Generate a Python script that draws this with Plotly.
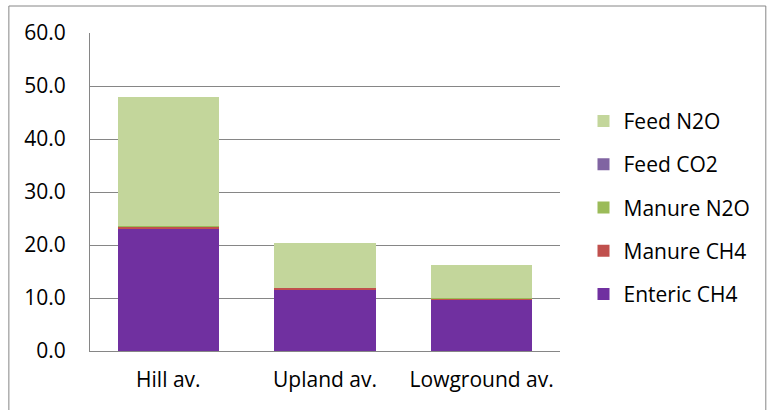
import plotly.graph_objects as go

categories = ["Hill av.", "Upland av.", "Lowground av."]
enteric_ch4 = [23.0, 11.6, 9.75]
manure_ch4 = [0.5, 0.3, 0.2]
manure_n2o = [0.1, 0.05, 0.05]
feed_co2 = [0.0, 0.0, 0.0]
feed_n2o = [24.4, 8.45, 6.2]
y_ticks = [0, 10, 20, 30, 40, 50, 60]

# stacking order bottom -> top, with legend rank (top entry first)
series = [
    ("Enteric CH4", enteric_ch4, "#7030A0", 5),
    ("Manure CH4", manure_ch4, "#C0504D", 4),
    ("Manure N2O", manure_n2o, "#9BBB59", 3),
    ("Feed CO2", feed_co2, "#8064A2", 2),
    ("Feed N2O", feed_n2o, "#C3D69B", 1),
]

FONT = "Open Sans"
SIZE = 21
fig = go.Figure()
for name, vals, color, rank in series:
    fig.add_trace(go.Bar(
        x=categories, y=vals, name=name,
        marker=dict(color=color, line=dict(width=0)),
        legendgroup=name, legendrank=rank,
    ))

fig.update_layout(
    width=768, height=410,
    margin=dict(l=90, r=203, t=33, b=59),
    barmode="stack", bargap=0.355,
    plot_bgcolor="white", paper_bgcolor="white",
    font=dict(family=FONT, size=SIZE, color="#000000"),
    showlegend=True,
    legend=dict(
        x=1.05, xanchor="left", y=0.787, yanchor="top",
        traceorder="grouped", tracegroupgap=13,
        font=dict(family=FONT, size=SIZE, color="#000000"),
    ),
    xaxis=dict(
        showgrid=False, showline=True, linecolor="#868686", linewidth=1,
        ticks="", tickfont=dict(size=SIZE), ticklabelstandoff=10,
    ),
    yaxis=dict(
        range=[0, 60], tickvals=y_ticks, tickformat=".1f",
        showgrid=True, gridcolor="#868686", gridwidth=1,
        showline=True, linecolor="#868686", linewidth=1,
        ticks="", tickfont=dict(size=SIZE), ticklabelstandoff=19,
        zeroline=False,
    ),
    shapes=[dict(
        type="rect", xref="paper", yref="paper",
        x0=-82 / 475, x1=(768 + 5 - 90) / 475,
        y0=-(59 + 10) / 318, y1=(318 + 27) / 318,
        line=dict(color="#868686", width=1), fillcolor="rgba(0,0,0,0)",
        layer="below",
    )],
)

fig.write_html("out.html")
